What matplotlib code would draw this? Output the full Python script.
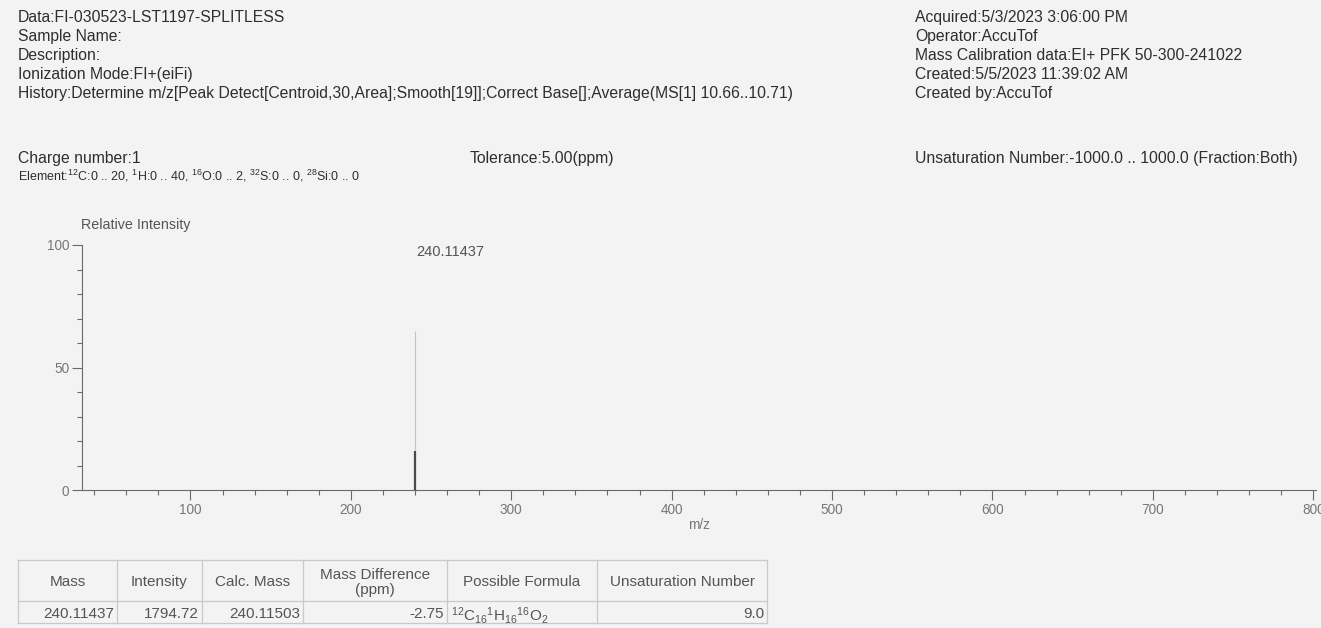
import matplotlib
matplotlib.use("Agg")
import matplotlib.pyplot as plt
from matplotlib.ticker import MultipleLocator, FixedLocator

plt.rcParams['font.family'] = ['Liberation Sans', 'DejaVu Sans']
plt.rcParams['mathtext.fontset'] = 'custom'
plt.rcParams['mathtext.rm'] = 'Liberation Sans'
plt.rcParams['mathtext.it'] = 'Liberation Sans:italic'
plt.rcParams['mathtext.bf'] = 'Liberation Sans:bold'

# ---- data ----
header_left = ['Data:FI-030523-LST1197-SPLITLESS',
               'Sample Name:',
               'Description:',
               'Ionization Mode:FI+(eiFi)',
               'History:Determine m/z[Peak Detect[Centroid,30,Area];Smooth[19]];'
               'Correct Base[];Average(MS[1] 10.66..10.71)']
header_right = ['Acquired:5/3/2023 3:06:00 PM',
                'Operator:AccuTof',
                'Mass Calibration data:EI+ PFK 50-300-241022',
                'Created:5/5/2023 11:39:02 AM',
                'Created by:AccuTof']
charge_text = 'Charge number:1'
element_text = (r'Element:$^{12}$C:0 .. 20, $^{1}$H:0 .. 40, $^{16}$O:0 .. 2, '
                r'$^{32}$S:0 .. 0, $^{28}$Si:0 .. 0')
tolerance_text = 'Tolerance:5.00(ppm)'
unsat_text = 'Unsaturation Number:-1000.0 .. 1000.0 (Fraction:Both)'

peak_mz = [240.11437]
peak_label = ['240.11437']
peak_faint_top = [65]   # faded part of the stick in the scan
peak_dark_top = [16]    # darker lower part

table_cols = ['Mass', 'Intensity', 'Calc. Mass', 'Mass Difference\n(ppm)',
              'Possible Formula', 'Unsaturation Number']
table_row = ['240.11437', '1794.72', '240.11503', '-2.75',
             r'$^{12}$C$_{16}$$^{1}$H$_{16}$$^{16}$O$_{2}$', '9.0']
table_align = ['right', 'right', 'right', 'right', 'left', 'right']

# ---- layout (pixels) ----
W, H = 1321, 628
bg = '#f3f3f4'
txt = '#2e2e2e'
grey = '#6a6a6a'


def fx(x):
    return x / W


def fy(y):
    return 1 - y / H


fig = plt.figure(figsize=(W / 100, H / 100), dpi=100, facecolor=bg)

hs = 11.3
row_base = [22, 41, 60, 79, 98]
for s, y in zip(header_left, row_base):
    fig.text(fx(18), fy(y), s, fontsize=hs, color=txt, va='baseline')
for s, y in zip(header_right, row_base):
    fig.text(fx(915), fy(y), s, fontsize=hs, color=txt, va='baseline')
fig.text(fx(18), fy(163), charge_text, fontsize=hs, color=txt, va='baseline')
fig.text(fx(18), fy(181), element_text, fontsize=9.0, color=txt, va='baseline')
fig.text(fx(470), fy(163), tolerance_text, fontsize=hs, color=txt, va='baseline')
fig.text(fx(915), fy(163), unsat_text, fontsize=hs, color=txt, va='baseline')

# ---- spectrum ----
ax = fig.add_axes([fx(82), fy(490), fx(1316 - 82), (490 - 245) / H])
ax.set_facecolor('none')
ax.vlines(peak_mz, 0, peak_faint_top, color='#c4c4c4', lw=0.8)
ax.vlines(peak_mz, 0, peak_dark_top, color='#4a4a4a', lw=1.6)
for m, lab in zip(peak_mz, peak_label):
    ax.annotate(lab, (m, 97), xytext=(1, 0), textcoords='offset points',
                fontsize=10.5, color='#555555', va='center', ha='left')

ax.set_xlim(32.4, 801.7)
ax.set_ylim(0, 100)
for side in ['top', 'right']:
    ax.spines[side].set_visible(False)
for side in ['left', 'bottom']:
    ax.spines[side].set_color(grey)
    ax.spines[side].set_linewidth(0.8)
ax.xaxis.set_major_locator(FixedLocator([100, 200, 300, 400, 500, 600, 700, 800]))
ax.xaxis.set_minor_locator(MultipleLocator(20))
ax.yaxis.set_major_locator(MultipleLocator(50))
ax.yaxis.set_minor_locator(MultipleLocator(10))
ax.tick_params(which='major', direction='out', length=7, width=0.8,
               color=grey, labelcolor='#777777', labelsize=9.8, pad=2)
ax.tick_params(which='minor', direction='out', length=3.5, width=0.8, color=grey)
ax.set_xlabel('m/z', fontsize=9.8, color='#777777', labelpad=1)
fig.text(fx(81), fy(225), 'Relative Intensity', fontsize=10.3, color='#555555',
         va='center')

# ---- result table ----
tax = fig.add_axes([0, 0, 1, 1])
tax.set_xlim(0, W)
tax.set_ylim(H, 0)
tax.axis('off')
col_x = [18, 117, 202, 303, 447, 597, 767]
row_edges = [560, 601, 623]
line_c = '#c9c9c9'
for yy in row_edges:
    tax.plot([col_x[0], col_x[-1]], [yy, yy], color=line_c, lw=0.9)
for xx in col_x:
    tax.plot([xx, xx], [row_edges[0], row_edges[-1]], color=line_c, lw=0.9)
for i, name in enumerate(table_cols):
    cx = (col_x[i] + col_x[i + 1]) / 2
    tax.text(cx, (row_edges[0] + row_edges[1]) / 2, name, ha='center',
             va='center_baseline', fontsize=11, color='#555555', linespacing=1.1)
for i, val in enumerate(table_row):
    if table_align[i] == 'right':
        xx, ha = col_x[i + 1] - 3, 'right'
    else:
        xx, ha = col_x[i] + 4, 'left'
    tax.text(xx, (row_edges[1] + row_edges[2]) / 2 + 1, val, ha=ha,
             va='center_baseline', fontsize=11, color='#555555')

fig.savefig('out.png', dpi=100, facecolor=bg)
